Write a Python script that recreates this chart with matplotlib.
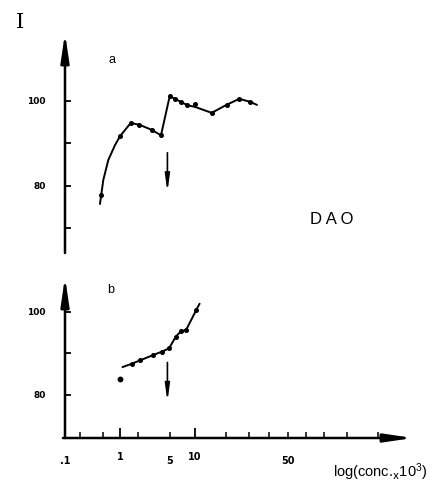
import numpy as np
import matplotlib
matplotlib.use("Agg")
import matplotlib.pyplot as plt
from matplotlib.ticker import FixedLocator, FixedFormatter, NullLocator

plt.rcParams['font.family'] = ['Liberation Sans', 'DejaVu Sans']
plt.rcParams['mathtext.default'] = 'regular'

a_line_x = [0.433, 0.497, 0.613, 0.811, 1.0, 1.41, 1.86, 2.78, 3.74, 4.95, 5.74, 6.73, 8.08, 10.0, 13.35, 17.3, 21.5, 25.9, 29.1]
a_line_y = [75.8, 81.4, 86.1, 89.6, 91.7, 94.8, 94.4, 93.2, 91.9, 101.1, 100.5, 99.8, 99.0, 98.6, 97.2, 99.1, 100.5, 99.8, 99.1]
a_pts_x = [0.451, 1.0, 1.41, 1.86, 2.78, 3.74, 4.95, 5.74, 6.73, 8.08, 10.0, 13.35, 17.3, 21.5, 25.9]
a_pts_y = [77.9, 91.7, 94.8, 94.4, 93.2, 91.9, 101.1, 100.5, 99.8, 99.0, 99.3, 97.2, 99.1, 100.5, 99.8]

# panel b
b_line_x = [1.09, 1.46, 1.90, 2.92, 3.83, 4.85, 5.86, 6.73, 7.8, 10.2, 10.8]
b_line_y = [86.7, 87.5, 88.3, 89.6, 90.4, 91.2, 94.0, 95.3, 95.6, 100.4, 101.9]
b_pts_x = [1.46, 1.90, 2.92, 3.83, 4.85, 5.86, 6.73, 7.8, 10.2]
b_pts_y = [87.5, 88.3, 89.6, 90.4, 91.2, 94.0, 95.3, 95.6, 100.4]
b_lone_x = [1.0]
b_lone_y = [83.7]

# the vertical arrows (conc, from y, to y)
arrow_x = 4.6
arrow_a = (87.8, 78.6)
arrow_b = (87.8, 78.4)

# x axis of the drawing is hand made: piecewise log
anchor_logs = [-2, -1, 0, np.log10(5), 1, np.log10(50), 3]
anchor_pos = [10, 65, 120, 170, 195, 288, 461]

def fwd(x):
    x = np.clip(np.asarray(x, dtype=float), 1e-6, None)
    return np.interp(np.log10(x), anchor_logs, anchor_pos)

def inv(p):
    return 10 ** np.interp(np.asarray(p, dtype=float), anchor_pos, anchor_logs)

major_x = [1, 10]
minor_x = [0.1, 0.19, 0.49, 1.8, 5, 17, 25.5, 36, 50, 68, 93, 139, 238]
minor_lab = ['.1', '', '', '', '5', '', '', '', '50', '', '', '', '']

fig = plt.figure(figsize=(4.48, 4.91), dpi=100)
ax_a = fig.add_axes([65/448, 1-253/491, 348/448, 220/491])
ax_b = fig.add_axes([65/448, 1-438/491, 348/448, 161/491])

for ax in (ax_a, ax_b):
    ax.set_xscale('function', functions=(fwd, inv))
    ax.set_xlim(0.1, float(inv(413)))
    for s in ax.spines.values():
        s.set_visible(False)
    ax.tick_params(axis='y', direction='in', length=4, width=1.3, pad=14,
                   labelsize=6.5)
    ax.annotate('', xy=(0, 1), xytext=(0, 0), xycoords='axes fraction',
                arrowprops=dict(arrowstyle='-|>,head_length=1.7,head_width=0.25',
                                lw=1.8, color='k', shrinkA=0, shrinkB=0))

ax_a.set_ylim(64.2, 116)
ax_b.set_ylim(69.6, 108.4)
ax_a.set_yticks([70, 80, 90, 100])
ax_a.set_yticklabels(['', '80', '', '100'], fontweight='bold', family='Liberation Sans Narrow')
ax_b.set_yticks([80, 90, 100])
ax_b.set_yticklabels(['80', '', '100'], fontweight='bold', family='Liberation Sans Narrow')

ax_a.xaxis.set_major_locator(NullLocator())
ax_a.xaxis.set_minor_locator(NullLocator())

# bottom x axis with arrow
ax_b.annotate('', xy=(1, 0), xytext=(-0.006, 0), xycoords='axes fraction',
              arrowprops=dict(arrowstyle='-|>,head_length=1.7,head_width=0.25',
                              lw=1.8, color='k', shrinkA=0, shrinkB=0))
ax_b.xaxis.set_major_locator(FixedLocator(major_x))
ax_b.xaxis.set_major_formatter(FixedFormatter(['1', '10']))
ax_b.xaxis.set_minor_locator(FixedLocator(minor_x))
ax_b.xaxis.set_minor_formatter(FixedFormatter(minor_lab))
ax_b.tick_params(axis='x', which='major', direction='in', length=7, width=1.3,
                 pad=10, labelsize=7)
ax_b.tick_params(axis='x', which='minor', direction='in', length=4, width=1.1,
                 pad=13, labelsize=7)
for lab in ax_b.get_xticklabels(which='both'):
    lab.set_fontweight('bold')
    lab.set_family('Liberation Sans Narrow')

# data
ax_a.plot(a_line_x, a_line_y, color='k', lw=1.4)
ax_a.plot(a_pts_x, a_pts_y, 'o', color='k', ms=2.6)
ax_b.plot(b_line_x, b_line_y, color='k', lw=1.4)
ax_b.plot(b_pts_x, b_pts_y, 'o', color='k', ms=2.6)
ax_b.plot(b_lone_x, b_lone_y, 'o', color='k', ms=3.2)

for ax, (y0, y1) in ((ax_a, arrow_a), (ax_b, arrow_b)):
    ax.annotate('', xy=(arrow_x, y1), xytext=(arrow_x, y0),
                arrowprops=dict(arrowstyle='-|>,head_length=1.0,head_width=0.14',
                                lw=1.2, color='k', shrinkA=0, shrinkB=0))

ax_a.text(0.715, 109.6, 'a', fontsize=9, ha='center', va='center')
ax_b.text(0.69, 105.3, 'b', fontsize=9, ha='center', va='center')

fig.text(332/448, 1-220/491, 'D A O', fontsize=12, ha='center', va='center')
fig.text(380/448, 1-472/491, r'log(conc.$_{\mathsf{x}}$10$^{3}$)', fontsize=10.5,
         ha='center', va='center')
fig.text(20/448, 1-23/491, 'I', fontsize=15, family='DejaVu Serif',
         ha='center', va='center')

fig.savefig('out.png', dpi=100)
